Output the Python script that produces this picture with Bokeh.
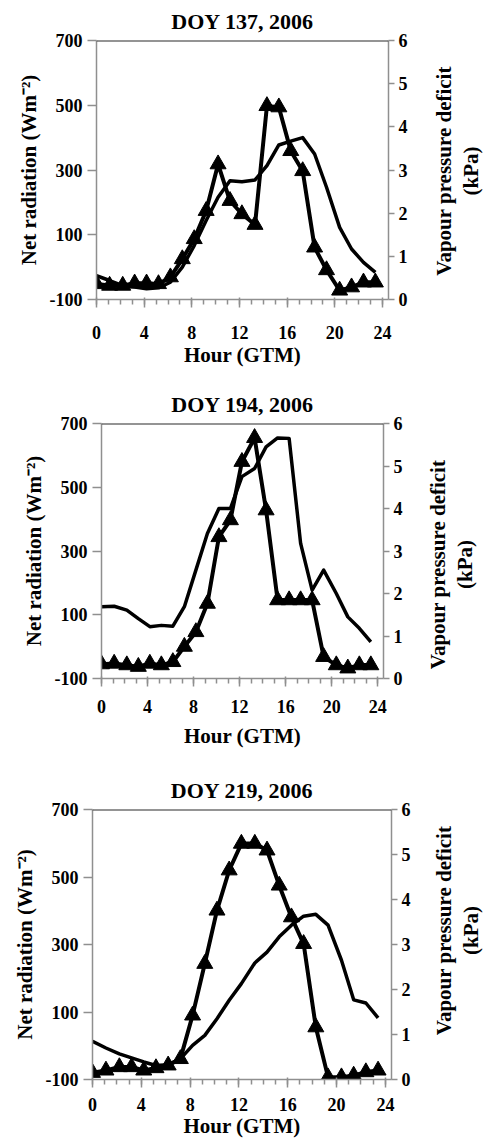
import math
from bokeh.plotting import figure
from bokeh.models import Range1d, LinearAxis, Span, FixedTicker, Label
from bokeh.layouts import row
from bokeh.embed import file_html
from bokeh.resources import INLINE

HOURS = [0.0, 1.1, 2.2, 3.2, 4.2, 5.2, 6.2, 7.2, 8.2, 9.2, 10.2, 11.2,
         12.2, 13.3, 14.3, 15.3, 16.3, 17.3, 18.3, 19.3, 20.4, 21.4, 22.4, 23.4]

TITLES = ["DOY 137, 2006", "DOY 194, 2006", "DOY 219, 2006"]

RN_137 = [-52, -57, -57, -50, -50, -52, -31, 25, 87, 174, 318, 205,
          164, 131, 498, 494, 359, 297, 61, -9, -72, -62, -47, -47]
VPD_137 = [0.55, 0.44, 0.32, 0.29, 0.25, 0.27, 0.40, 0.75, 1.25, 1.83, 2.37, 2.75,
           2.73, 2.77, 3.10, 3.58, 3.67, 3.75, 3.37, 2.60, 1.67, 1.17, 0.86, 0.63]

RN_194 = [-55, -53, -58, -63, -53, -58, -48, 0, 46, 135, 344, 397,
          580, 655, 428, 146, 146, 146, 146, -32, -58, -68, -58, -58]
VPD_194 = [1.69, 1.70, 1.61, 1.41, 1.22, 1.25, 1.23, 1.69, 2.55, 3.41, 4.00, 4.00,
           4.75, 4.94, 5.45, 5.66, 5.65, 3.18, 2.08, 2.55, 2.00, 1.45, 1.18, 0.86]

RN_219 = [-80, -73, -63, -63, -73, -66, -58, -39, 90, 243, 401, 520,
          599, 599, 579, 475, 381, 302, 55, -93, -93, -88, -78, -73]
VPD_219 = [0.85, 0.70, 0.57, 0.48, 0.39, 0.31, 0.33, 0.46, 0.76, 0.98, 1.35, 1.76,
           2.13, 2.59, 2.83, 3.17, 3.43, 3.63, 3.67, 3.43, 2.65, 1.77, 1.70, 1.37]

X_TICKS = [0, 4, 8, 12, 16, 20, 24]
X_MINOR = list(range(25))
RN_TICKS = [-100, 100, 300, 500, 700]
RN_TICK_LABELS = ["-100", "100", "300", "500", "700"]
VPD_TICKS = [0, 1, 2, 3, 4, 5, 6]

X_LABEL = "Hour (GTM)"
RN_LABEL = "Net radiation (Wm⁻²)"
VPD_LABEL_1 = "Vapour pressure deficit"
VPD_LABEL_2 = "(kPa)"

FONT = "Liberation Serif"
GRAY = "#8f8f8f"
W = 485
MAIN_W = 422   # main figure width; the rest holds the right-hand axis title


def style_axis(ax, size="18px"):
    ax.axis_line_color = GRAY
    ax.axis_line_width = 1.5
    ax.major_tick_line_color = GRAY
    ax.minor_tick_line_color = GRAY
    ax.major_tick_line_width = 1.5
    ax.minor_tick_line_width = 1.5
    ax.major_label_text_font = FONT
    ax.major_label_text_font_style = "bold"
    ax.major_label_text_font_size = size
    ax.major_label_text_color = "black"
    ax.axis_label_text_font = FONT
    ax.axis_label_text_font_style = "bold"
    ax.axis_label_text_font_size = "21px"
    ax.axis_label_text_color = "black"


def make_panel(title, rn, vpd, height, left, right, top, bottom,
               xtick_standoff, xlabel_standoff, rlab_x1, rlab_x2, rlab_y):
    p = figure(width=MAIN_W, height=height, output_backend="svg", toolbar_location=None,
               x_range=Range1d(0, 24.5), y_range=Range1d(-100, 700),
               min_border_left=left, min_border_right=MAIN_W - right,
               min_border_top=top, min_border_bottom=height - bottom)
    p.extra_y_ranges = {"vpd": Range1d(0, 6)}
    p.grid.visible = False
    p.outline_line_color = None
    p.background_fill_color = "white"
    p.border_fill_color = "white"

    p.title.text = title
    p.title.align = "center"
    p.title.text_font = FONT
    p.title.text_font_style = "bold"
    p.title.text_font_size = "22px"
    p.title.text_color = "black"
    p.title.standoff = 13

    xa = p.xaxis[0]
    style_axis(xa)
    xa.ticker = FixedTicker(ticks=X_TICKS, minor_ticks=X_MINOR)
    xa.major_tick_in = 2
    xa.major_tick_out = 8
    xa.minor_tick_in = 0
    xa.minor_tick_out = 5
    xa.major_label_standoff = xtick_standoff
    xa.axis_label = X_LABEL
    xa.axis_label_standoff = xlabel_standoff

    ya = p.yaxis[0]
    style_axis(ya)
    ya.ticker = FixedTicker(ticks=RN_TICKS, minor_ticks=[])
    ya.major_label_overrides = dict(zip(RN_TICKS, RN_TICK_LABELS))
    ya.major_tick_in = 0
    ya.major_tick_out = 9
    ya.major_label_standoff = 5
    ya.axis_label = RN_LABEL
    ya.axis_label_standoff = 6

    ra = LinearAxis(y_range_name="vpd")
    style_axis(ra)
    ra.ticker = FixedTicker(ticks=VPD_TICKS, minor_ticks=[])
    ra.major_tick_in = 0
    ra.major_tick_out = 6
    ra.major_label_standoff = 4
    p.add_layout(ra, "right")

    p.add_layout(Span(location=700, dimension="width", line_color="#2a2a2a", line_width=2))

    p.line(HOURS, vpd, y_range_name="vpd", line_color="black", line_width=3.5,
           line_join="round")
    p.line(HOURS, rn, line_color="black", line_width=4, line_join="round")
    p.scatter(HOURS, rn, marker="triangle", size=16, fill_color="black",
              line_color="black")

    # side strip carrying the right-hand axis title (reads bottom to top)
    lw = W - MAIN_W
    fh = bottom - top
    q = figure(width=lw, height=height, output_backend="svg", toolbar_location=None,
               x_range=Range1d(0, lw), y_range=Range1d(0, fh),
               x_axis_location=None, y_axis_location=None,
               min_border_left=0, min_border_right=0,
               min_border_top=top, min_border_bottom=height - bottom)
    q.grid.visible = False
    q.outline_line_color = None
    q.background_fill_color = "white"
    q.border_fill_color = "white"
    for txt, xc in ((VPD_LABEL_1, rlab_x1), (VPD_LABEL_2, rlab_x2)):
        q.add_layout(Label(x=xc - MAIN_W, y=bottom - rlab_y,
                           text=txt, angle=math.pi / 2,
                           text_align="center", text_baseline="middle",
                           text_font=FONT, text_font_style="bold",
                           text_font_size="21px", text_color="black"))
    return row(p, q, spacing=0)


# frame positions in page pixels, measured from each panel's own top edge
r1 = make_panel(TITLES[0], RN_137, VPD_137, 370, 96, 388, 39, 299, 18, 1, 443, 470, 170)
r2 = make_panel(TITLES[1], RN_194, VPD_194, 390, 101, 383, 53, 308, 13, 8, 437, 464, 194)
r3 = make_panel(TITLES[2], RN_219, VPD_219, 382, 92, 391, 49, 319, 10, 0, 443, 470, 170)

open("out.html", "w").write(file_html([r1, r2, r3], INLINE))
